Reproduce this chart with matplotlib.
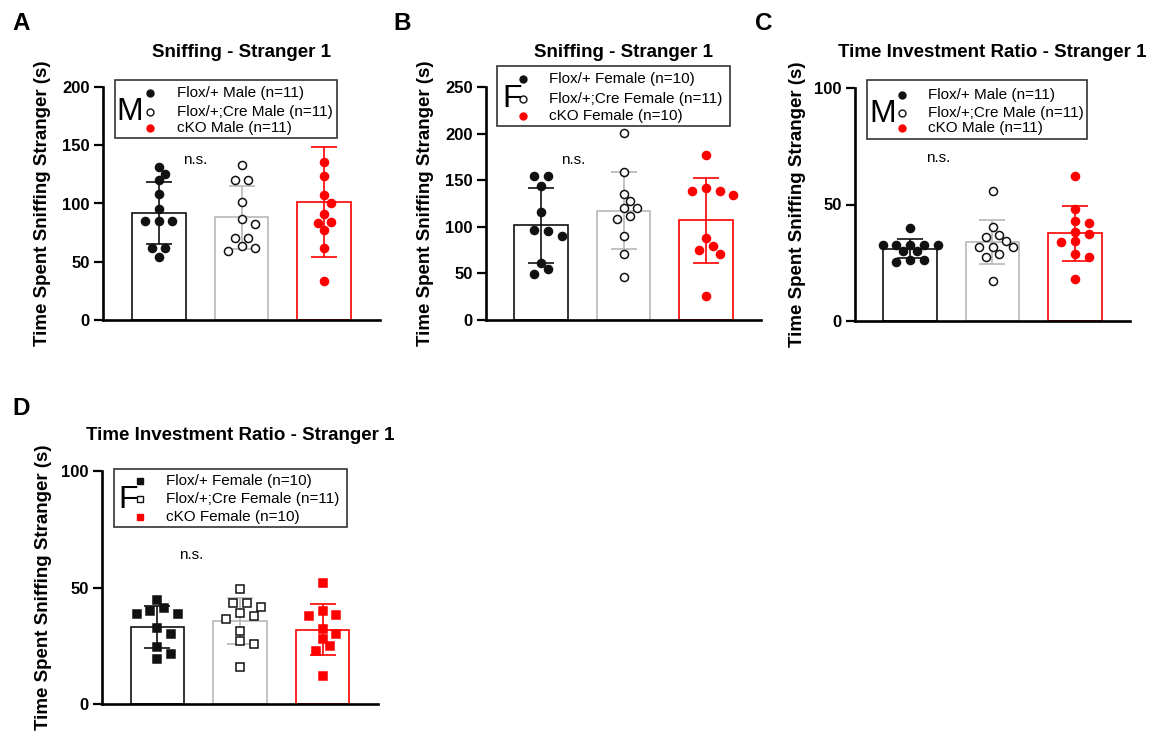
import numpy as np
import matplotlib
matplotlib.use("Agg")
import matplotlib.pyplot as plt
from matplotlib.lines import Line2D
from matplotlib.patches import Rectangle

# ---------------- data ----------------
labels_male = ["Flox/+ Male (n=11)", "Flox/+;Cre Male (n=11)", "cKO Male (n=11)"]
labels_female = ["Flox/+ Female (n=10)", "Flox/+;Cre Female (n=11)", "cKO Female (n=10)"]
title_sniff = "Sniffing - Stranger 1"
title_ratio = "Time Investment Ratio - Stranger 1"
ylabel_text = "Time Spent Sniffing Stranger (s)"

a_flox = [131.4, 125.1, 120.0, 108.0, 94.9, 84.9, 84.9, 84.9, 61.4, 61.4, 54.3]
a_cre = [133.4, 120.0, 120.0, 101.4, 86.3, 82.3, 70.0, 70.0, 63.7, 61.4, 59.4]
a_cko = [217.0, 135.7, 124.0, 107.4, 100.0, 91.4, 84.3, 83.4, 77.1, 62.0, 33.7]

b_flox = [154.6, 154.6, 143.9, 115.7, 96.4, 95.4, 90.4, 60.7, 54.3, 48.9]
b_cre = [201.0, 158.9, 135.7, 127.5, 120.4, 120.4, 111.8, 108.2, 90.4, 70.7, 46.4]
b_cko = [176.8, 141.1, 138.6, 138.6, 134.3, 87.5, 79.6, 75.0, 70.7, 25.7]

c_flox = [40.0, 32.8, 32.8, 32.8, 32.8, 32.8, 30.0, 30.0, 26.2, 26.2, 25.5]
c_cre = [55.9, 40.4, 37.0, 36.0, 34.4, 31.8, 31.8, 31.8, 28.6, 27.4, 17.1]
c_cko = [62.4, 47.9, 42.9, 42.0, 38.3, 37.3, 34.3, 33.7, 28.7, 27.6, 18.0]

d_flox = [44.6, 41.1, 39.9, 38.6, 38.5, 32.6, 30.0, 24.3, 21.5, 19.3]
d_cre = [49.5, 43.5, 43.2, 41.8, 38.9, 37.8, 36.5, 31.5, 27.2, 25.8, 16.0]
d_cko = [51.8, 40.0, 38.2, 37.8, 32.2, 30.0, 27.8, 24.9, 22.9, 12.1]

yticks_a = [0, 50, 100, 150, 200]
yticks_b = [0, 50, 100, 150, 200, 250]
yticks_cd = [0, 50, 100]

# ---------------- style ----------------
plt.rcParams["font.family"] = ["Liberation Sans", "DejaVu Sans"]
W, H = 1160, 733
DPI = 100
BLACK, GRAY, RED = "#111111", "#b8b8b8", "#ff0000"
bar_colors = [BLACK, GRAY, RED]

fig = plt.figure(figsize=(W / DPI, H / DPI), dpi=DPI)


def fxy(x, y):
    return x / W, 1 - y / H


def make_axes(left, top, right, bottom):
    return fig.add_axes([left / W, 1 - bottom / H, (right - left) / W, (bottom - top) / H])


def swarm_x(ax, xc, vals, step=6.9, diam=9.0, row_tol=1.0):
    """Spread points horizontally (in display pixels) so they do not overlap."""
    vals = np.asarray(vals, float)
    n = len(vals)
    tr = ax.transData
    disp = tr.transform(np.column_stack([np.full(n, xc), vals]))
    ys = disp[:, 1]
    x0 = disp[0, 0]
    order = list(np.argsort(-vals, kind="stable"))
    offs = np.zeros(n)
    placed = []

    def free(x, y):
        return all(np.hypot(x - px, y - py) >= diam for px, py in placed)

    cands = [0.0]
    for m in range(1, 10):
        cands += [m * step, -m * step]
    i = 0
    while i < n:
        row = [order[i]]
        j = i + 1
        while j < n and abs(ys[order[j - 1]] - ys[order[j]]) < row_tol:
            row.append(order[j])
            j += 1
        k = len(row)
        base = [(m - (k - 1) / 2) * 2 * step for m in range(k)]
        if k > 1 and all(free(b, ys[r]) for b, r in zip(base, row)):
            for b, r in zip(base, row):
                offs[r] = b
                placed.append((b, ys[r]))
        else:
            for r in row:
                for c in cands:
                    if free(c, ys[r]):
                        offs[r] = c
                        break
                placed.append((offs[r], ys[r]))
        i = j
    xs = tr.inverted().transform(np.column_stack([x0 + offs, ys]))[:, 0]
    return xs


def panel(box, groups, yticks, title, marker, letter, letter_xy, title_base, ylab_x,
          ns_xy, legend_spec):
    left, top, right, bottom = box
    ax = make_axes(left, top, right, bottom)
    ax.set_xlim(-0.67, 2.67)
    ax.set_ylim(yticks[0], yticks[-1])
    for s in ["top", "right"]:
        ax.spines[s].set_visible(False)
    for s in ["left", "bottom"]:
        ax.spines[s].set_linewidth(1.9)
        ax.spines[s].set_color("black")
    ax.set_xticks([])
    ax.set_yticks(yticks)
    ax.tick_params(axis="y", direction="out", length=6.5, width=1.6, pad=3,
                   labelsize=12)
    for t in ax.get_yticklabels():
        t.set_fontweight("bold")

    xs = np.arange(len(groups))
    means = [np.mean(g) for g in groups]
    sds = [np.std(g, ddof=1) for g in groups]
    ax.bar(xs, means, width=0.65, facecolor="white", edgecolor=bar_colors,
           linewidth=1.2, zorder=1)
    for i in range(3):
        ax.errorbar(xs[i], means[i], yerr=sds[i], fmt="none", ecolor=bar_colors[i],
                    elinewidth=1.2, capsize=9.5, capthick=1.2, zorder=2)
    msize = 5.8 if marker == "o" else 5.5
    face = [BLACK, "white", RED]
    edge = [BLACK, BLACK, RED]
    for i, g in enumerate(groups):
        px = swarm_x(ax, xs[i], g, diam=9.0 if marker == "o" else 9.5)
        ax.plot(px, g, linestyle="none", marker=marker, markersize=msize,
                markerfacecolor=face[i], markeredgecolor=edge[i],
                markeredgewidth=1.1, zorder=3, clip_on=True)

    # title
    cx = (left + right) / 2
    fig.text(*fxy(cx, title_base), title, ha="center", va="baseline",
             fontsize=13.5, fontweight="bold")
    # y label
    fig.text(*fxy(ylab_x, (top + bottom) / 2), ylabel_text, rotation=90,
             ha="center", va="center", fontsize=13.5, fontweight="bold")
    # panel letter
    fig.text(*fxy(*letter_xy), letter, ha="left", va="baseline",
             fontsize=17.5, fontweight="bold")
    # n.s.
    fig.text(*fxy(*ns_xy), "n.s.", ha="center", va="baseline", fontsize=11)

    # legend
    (bx0, by0, bx1, by1), big, big_xy, mk_x, rows, lab_x, labs = legend_spec
    fx0, fy1 = fxy(bx0, by1)
    fx1, fy0 = fxy(bx1, by0)
    fig.add_artist(Rectangle((fx0, fy1), fx1 - fx0, fy0 - fy1,
                             transform=fig.transFigure, facecolor="white",
                             edgecolor="#333333", linewidth=1.2, zorder=10))
    fig.text(*fxy(*big_xy), big, ha="left", va="baseline", fontsize=23,
             zorder=11)
    lm = 5.0 if marker == "o" else 4.6
    for i, (ry, lab) in enumerate(zip(rows, labs)):
        mx, my = fxy(mk_x, ry)
        fig.add_artist(Line2D([mx], [my], transform=fig.transFigure,
                              linestyle="none", marker=marker, markersize=lm,
                              markerfacecolor=face[i], markeredgecolor=edge[i],
                              markeredgewidth=1.0, zorder=11))
        fig.text(*fxy(lab_x, ry), lab, ha="left", va="center", fontsize=11,
                 zorder=11)
    return ax


panel((103, 87, 380, 320), [a_flox, a_cre, a_cko], yticks_a, title_sniff, "o",
      "A", (12, 30), 57, 43, (195, 164),
      ((115, 80, 337, 138), "M", (116, 120), 150, [93, 112, 128], 177, labels_male))

panel((486, 87, 761, 320), [b_flox, b_cre, b_cko], yticks_b, title_sniff, "o",
      "B", (393, 30), 57, 425, (573, 164),
      ((497, 66, 730, 126), "F", (502, 107), 523, [79, 99, 116], 549, labels_female))

panel((855, 88, 1130, 321), [c_flox, c_cre, c_cko], yticks_cd, title_ratio, "o",
      "C", (755, 30), 57, 798, (938, 162),
      ((867, 80, 1087, 139), "M", (869, 122), 902, [95, 113, 128], 928, labels_male))

panel((102, 471, 378, 704), [d_flox, d_cre, d_cko], yticks_cd, title_ratio, "s",
      "D", (12, 415), 440, 44, (191, 559),
      ((114, 469, 347, 527), "F", (118, 508), 140, [481, 499, 517], 166, labels_female))

fig.savefig("out.png", dpi=DPI, facecolor="white")
